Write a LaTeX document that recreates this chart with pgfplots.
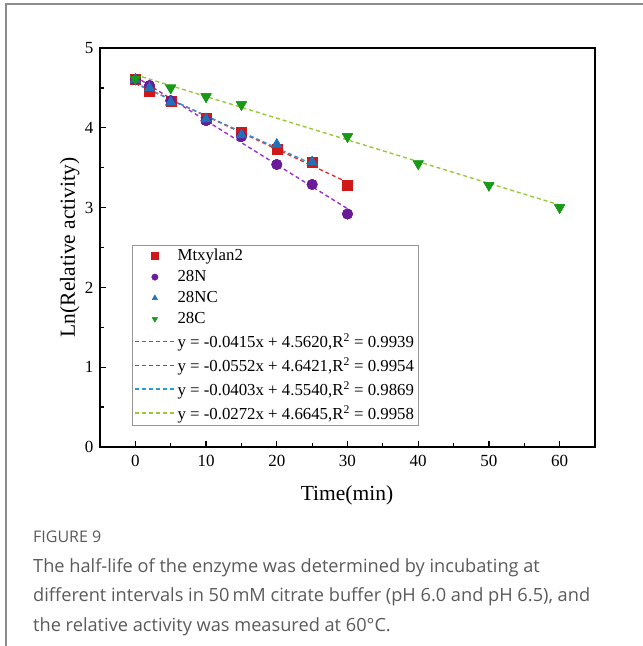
\documentclass[border=0pt]{standalone}
\usepackage{fontspec}
\setmainfont{Liberation Serif}
\newfontfamily\capfont{Open Sans}
\usepackage{pgfplots}
\pgfplotsset{compat=1.18}
\definecolor{mred}{HTML}{D01818}
\definecolor{mpur}{HTML}{6A1B9A}
\definecolor{mblu}{HTML}{1F72B8}
\definecolor{mgrn}{HTML}{189A18}
\definecolor{lred}{HTML}{E8302E}
\definecolor{lpur}{HTML}{9A30D0}
\definecolor{lblu}{HTML}{2A9AD8}
\definecolor{lgrn}{HTML}{99C83A}
\definecolor{capgray}{HTML}{5A5A5A}
\definecolor{legframe}{HTML}{969696}
\begin{document}
\begin{tikzpicture}[x=1pt,y=1pt]
\path[use as bounding box] (0,0) rectangle (643,646);
\draw[color={rgb,255:red,140;green,140;blue,140}, line width=1.5pt] (6,0) -- (6,642) -- (643,642);
\begin{axis}[
  at={(100pt,199pt)}, anchor=south west,
  scale only axis, width=495pt, height=399pt,
  xmin=-5, xmax=65, ymin=0, ymax=5,
  xtick={0,10,20,30,40,50,60}, ytick={0,1,2,3,4,5},
  minor x tick num=1, minor y tick num=1,
  tick pos=left, tick align=inside,
  major tick length=6pt, minor tick length=4pt,
  every tick/.style={black, line width=1.2pt},
  axis line style={line width=1.8pt},
  tick label style={font=\fontsize{17}{19}\selectfont},
  /pgf/number format/assume math mode=true,
  xticklabel style={yshift=-5pt},
  yticklabel style={xshift=-3pt},
  every axis y label/.style={at={(axis description cs:-0.061,0.5)}, rotate=90, anchor=center},
  every axis x label/.style={at={(axis description cs:0.499,-0.12)}, anchor=center},
  label style={font=\fontsize{21.5}{25}\selectfont},
  xlabel={Time(min)}, ylabel={Ln(Relative activity)},
  legend style={at={(axis description cs:0.0646,0.506)}, anchor=north west,
    draw=none, name=leg,
    font=\fontsize{16.8}{19}\selectfont, row sep=4.3pt, inner sep=2pt},
  legend cell align=left,
  legend image code/.code={\draw[mark repeat=2,mark phase=2,#1,mark size=3.2pt] plot coordinates {(0pt,0pt)(20pt,0pt)(40pt,0pt)};},
]
% data (legend entries)
\addplot[only marks, mark=square*, mark size=5pt, color=mred, solid] coordinates {
(0,4.605) (2,4.46) (5,4.33) (10,4.12) (15,3.94) (20,3.73) (25,3.57) (30,3.28)};
\addlegendentry{Mtxylan2}
\addplot[only marks, mark=*, mark size=5.2pt, color=mpur, solid] coordinates {
(0,4.605) (2,4.53) (5,4.34) (10,4.09) (15,3.89) (20,3.54) (25,3.29) (30,2.92)};
\addlegendentry{28N}
\addplot[only marks, mark=triangle*, mark size=6pt, color=mblu, solid] coordinates {
(0,4.605) (2,4.50) (5,4.32) (10,4.11) (15,3.91) (20,3.79) (25,3.57)};
\addlegendentry{28NC}
\addplot[only marks, mark=triangle*, mark options={rotate=180}, mark size=6pt, color=mgrn, solid] coordinates {
(0,4.61) (5,4.50) (10,4.39) (15,4.29) (30,3.89) (40,3.55) (50,3.28) (60,3.00)};
\addlegendentry{28C}
% fitted lines (legend entries)
\addplot[color=lred, no marks, dash pattern=on 4pt off 3pt, line width=1.4pt] coordinates {(0,4.5620) (30,3.3170)};
\addlegendentry{y = -0.0415x + 4.5620,R\textsuperscript{2} = 0.9939}
\addplot[color=lpur, no marks, dash pattern=on 4pt off 3pt, line width=1.4pt] coordinates {(0,4.6421) (30,2.9861)};
\addlegendentry{y = -0.0552x + 4.6421,R\textsuperscript{2} = 0.9954}
\addplot[color=lblu, no marks, dash pattern=on 4pt off 3pt, line width=1.4pt] coordinates {(0,4.5540) (25,3.5465)};
\addlegendentry{y = -0.0403x + 4.5540,R\textsuperscript{2} = 0.9869}
\addplot[color=lgrn, no marks, dash pattern=on 4pt off 3pt, line width=1.4pt] coordinates {(0,4.6645) (60,3.0325)};
\addlegendentry{y = -0.0272x + 4.6645,R\textsuperscript{2} = 0.9958}
% markers again on top of the lines
\addplot[forget plot, only marks, mark=square*, mark size=5pt, color=mred, solid] coordinates {
(0,4.605) (2,4.46) (5,4.33) (10,4.12) (15,3.94) (20,3.73) (25,3.57) (30,3.28)};
\addplot[forget plot, only marks, mark=*, mark size=5.2pt, color=mpur, solid] coordinates {
(0,4.605) (2,4.53) (5,4.34) (10,4.09) (15,3.89) (20,3.54) (25,3.29) (30,2.92)};
\addplot[forget plot, only marks, mark=triangle*, mark size=6pt, color=mblu, solid] coordinates {
(0,4.605) (2,4.50) (5,4.32) (10,4.11) (15,3.91) (20,3.79) (25,3.57)};
\addplot[forget plot, only marks, mark=triangle*, mark options={rotate=180}, mark size=6pt, color=mgrn, solid] coordinates {
(0,4.61) (5,4.50) (10,4.39) (15,4.29) (30,3.89) (40,3.55) (50,3.28) (60,3.00)};
\end{axis}
\draw[legframe, line width=0.8pt] (leg.south west) rectangle (leg.north east);
\node[anchor=base west, inner sep=0pt, text=capgray, font=\capfont\fontsize{16}{18}\selectfont] at (33,103) {FIGURE 9};
\node[anchor=base west, inner sep=0pt, text=capgray, font=\capfont\fontsize{18.2}{21}\selectfont] at (33,73) {The half-life of the enzyme was determined by incubating at};
\node[anchor=base west, inner sep=0pt, text=capgray, font=\capfont\fontsize{18.2}{21}\selectfont] at (33,44) {different intervals in 50\,mM citrate buffer (pH 6.0 and pH 6.5), and};
\node[anchor=base west, inner sep=0pt, text=capgray, font=\capfont\fontsize{18.2}{21}\selectfont] at (33,15) {the relative activity was measured at 60°C.};
\end{tikzpicture}
\end{document}
